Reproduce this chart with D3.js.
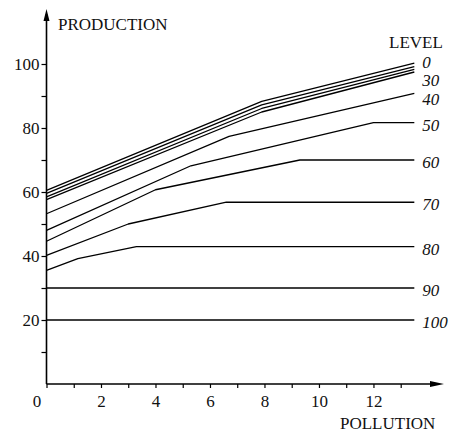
<!DOCTYPE html>
<html>
<head>
<meta charset="utf-8">
<script src="https://cdn.jsdelivr.net/npm/d3@7"></script>
<style>
  body { margin: 0; background: #fff; }
  svg text { font-family: 'Liberation Serif', 'DejaVu Serif', serif; fill: #111; }
</style>
</head>
<body>
<div id="chart"></div>
<script>
// production against pollution, one curve per level: [pollution, production]
const level0   = [[0, 60.5], [7.9, 88.3], [13.5, 100.3]];
const level10  = [[0, 59.6], [7.9, 87.2], [13.5, 99.2]];
const level20  = [[0, 58.5], [7.9, 86.1], [13.5, 98.3]];
const level30  = [[0, 57.6], [7.9, 85.0], [13.5, 97.5]];
const level40  = [[0, 53.2], [6.7, 77.4], [13.5, 90.8]];
const level50  = [[0, 48.0], [5.3, 68.2], [12, 81.7], [13.5, 81.7]];
const level60  = [[0, 44.6], [4, 60.7], [9.3, 70.0], [13.5, 70.0]];
const level70  = [[0, 40.2], [3, 50.0], [6.6, 56.8], [13.5, 56.8]];
const level80  = [[0, 35.5], [1.15, 39.2], [3.3, 42.9], [13.5, 42.9]];
const level90  = [[0, 30], [13.5, 30]];
const level100 = [[0, 20], [13.5, 20]];

const levels = [0, 10, 20, 30, 40, 50, 60, 70, 80, 90, 100];
const labelledLevels = [0, 30, 40, 50, 60, 70, 80, 90, 100];
const curves = [level0, level10, level20, level30, level40, level50,
                level60, level70, level80, level90, level100];

const xTicks = d3.range(0, 14);
const xLabels = [0, 2, 4, 6, 8, 10, 12];
const yTicks = d3.range(10, 101, 10);
const yLabels = [20, 40, 60, 80, 100];

const width = 452, height = 434;
const serif = "'Liberation Serif', 'DejaVu Serif', serif";

const svg = d3.select('#chart')
    .append('svg')
    .attr('width', width)
    .attr('height', height)
    .attr('font-family', serif);

const x = d3.scaleLinear().domain([0, 13]).range([46.5, 400.7]);
const y = d3.scaleLinear().domain([0, 100]).range([384, 64]);

// y axis
const yAxis = svg.append('g')
    .attr('transform', `translate(${x(0)},0)`)
    .call(d3.axisLeft(y).tickValues(yTicks).tickSize(5).tickPadding(2)
        .tickFormat(d => yLabels.includes(d) ? d : ''))
    .attr('font-family', serif)
    .attr('font-size', 17);
yAxis.select('.domain').remove();
yAxis.selectAll('.tick line').attr('stroke', '#000').attr('stroke-width', 1.2);

// x axis
const xAxis = svg.append('g')
    .attr('transform', `translate(0,${y(0)})`)
    .call(d3.axisBottom(x).tickValues(xTicks).tickSize(4).tickPadding(7)
        .tickFormat(d => xLabels.includes(d) ? d : ''))
    .attr('font-family', serif)
    .attr('font-size', 17);
xAxis.select('.domain').remove();
xAxis.selectAll('.tick line').attr('stroke', '#000').attr('stroke-width', 1.2);
xAxis.selectAll('.tick').filter(d => d === 0).select('text').attr('x', -10);

// axis lines with arrow heads
const x0 = x(0), y0 = y(0);
svg.append('line')
    .attr('x1', x0).attr('y1', y0).attr('x2', x0).attr('y2', 14)
    .attr('stroke', '#000').attr('stroke-width', 1.6);
svg.append('path')
    .attr('d', `M${x0},9 L${x0 - 3},21 L${x0 + 3},21 Z`)
    .attr('fill', '#000');
svg.append('line')
    .attr('x1', x0).attr('y1', y0).attr('x2', 438).attr('y2', y0)
    .attr('stroke', '#000').attr('stroke-width', 1.6);
svg.append('path')
    .attr('d', `M444,${y0} L430,${y0 - 3} L430,${y0 + 3} Z`)
    .attr('fill', '#000');

// level curves
const line = d3.line().x(d => x(d[0])).y(d => y(d[1]));

svg.append('g')
    .selectAll('path')
    .data(curves)
    .join('path')
    .attr('d', line)
    .attr('fill', 'none')
    .attr('stroke', '#000')
    .attr('stroke-width', 1.3)
    .attr('stroke-linejoin', 'round');

// level labels at the right end of each curve
const labelShift = { 0: -1, 30: 8, 40: 6 };
svg.append('g')
    .selectAll('text')
    .data(labelledLevels)
    .join('text')
    .attr('x', d => x(curves[levels.indexOf(d)].at(-1)[0]) + 8)
    .attr('y', d => y(curves[levels.indexOf(d)].at(-1)[1]) + (labelShift[d] ?? 2))
    .attr('dy', '0.35em')
    .attr('font-size', 17)
    .attr('font-style', 'italic')
    .text(d => d);

// titles
svg.append('text').attr('x', 58).attr('y', 30).attr('font-size', 17).text('PRODUCTION');
svg.append('text').attr('x', 389).attr('y', 48).attr('font-size', 17).text('LEVEL');
svg.append('text').attr('x', 340).attr('y', 429).attr('font-size', 17).text('POLLUTION');
</script>
</body>
</html>
